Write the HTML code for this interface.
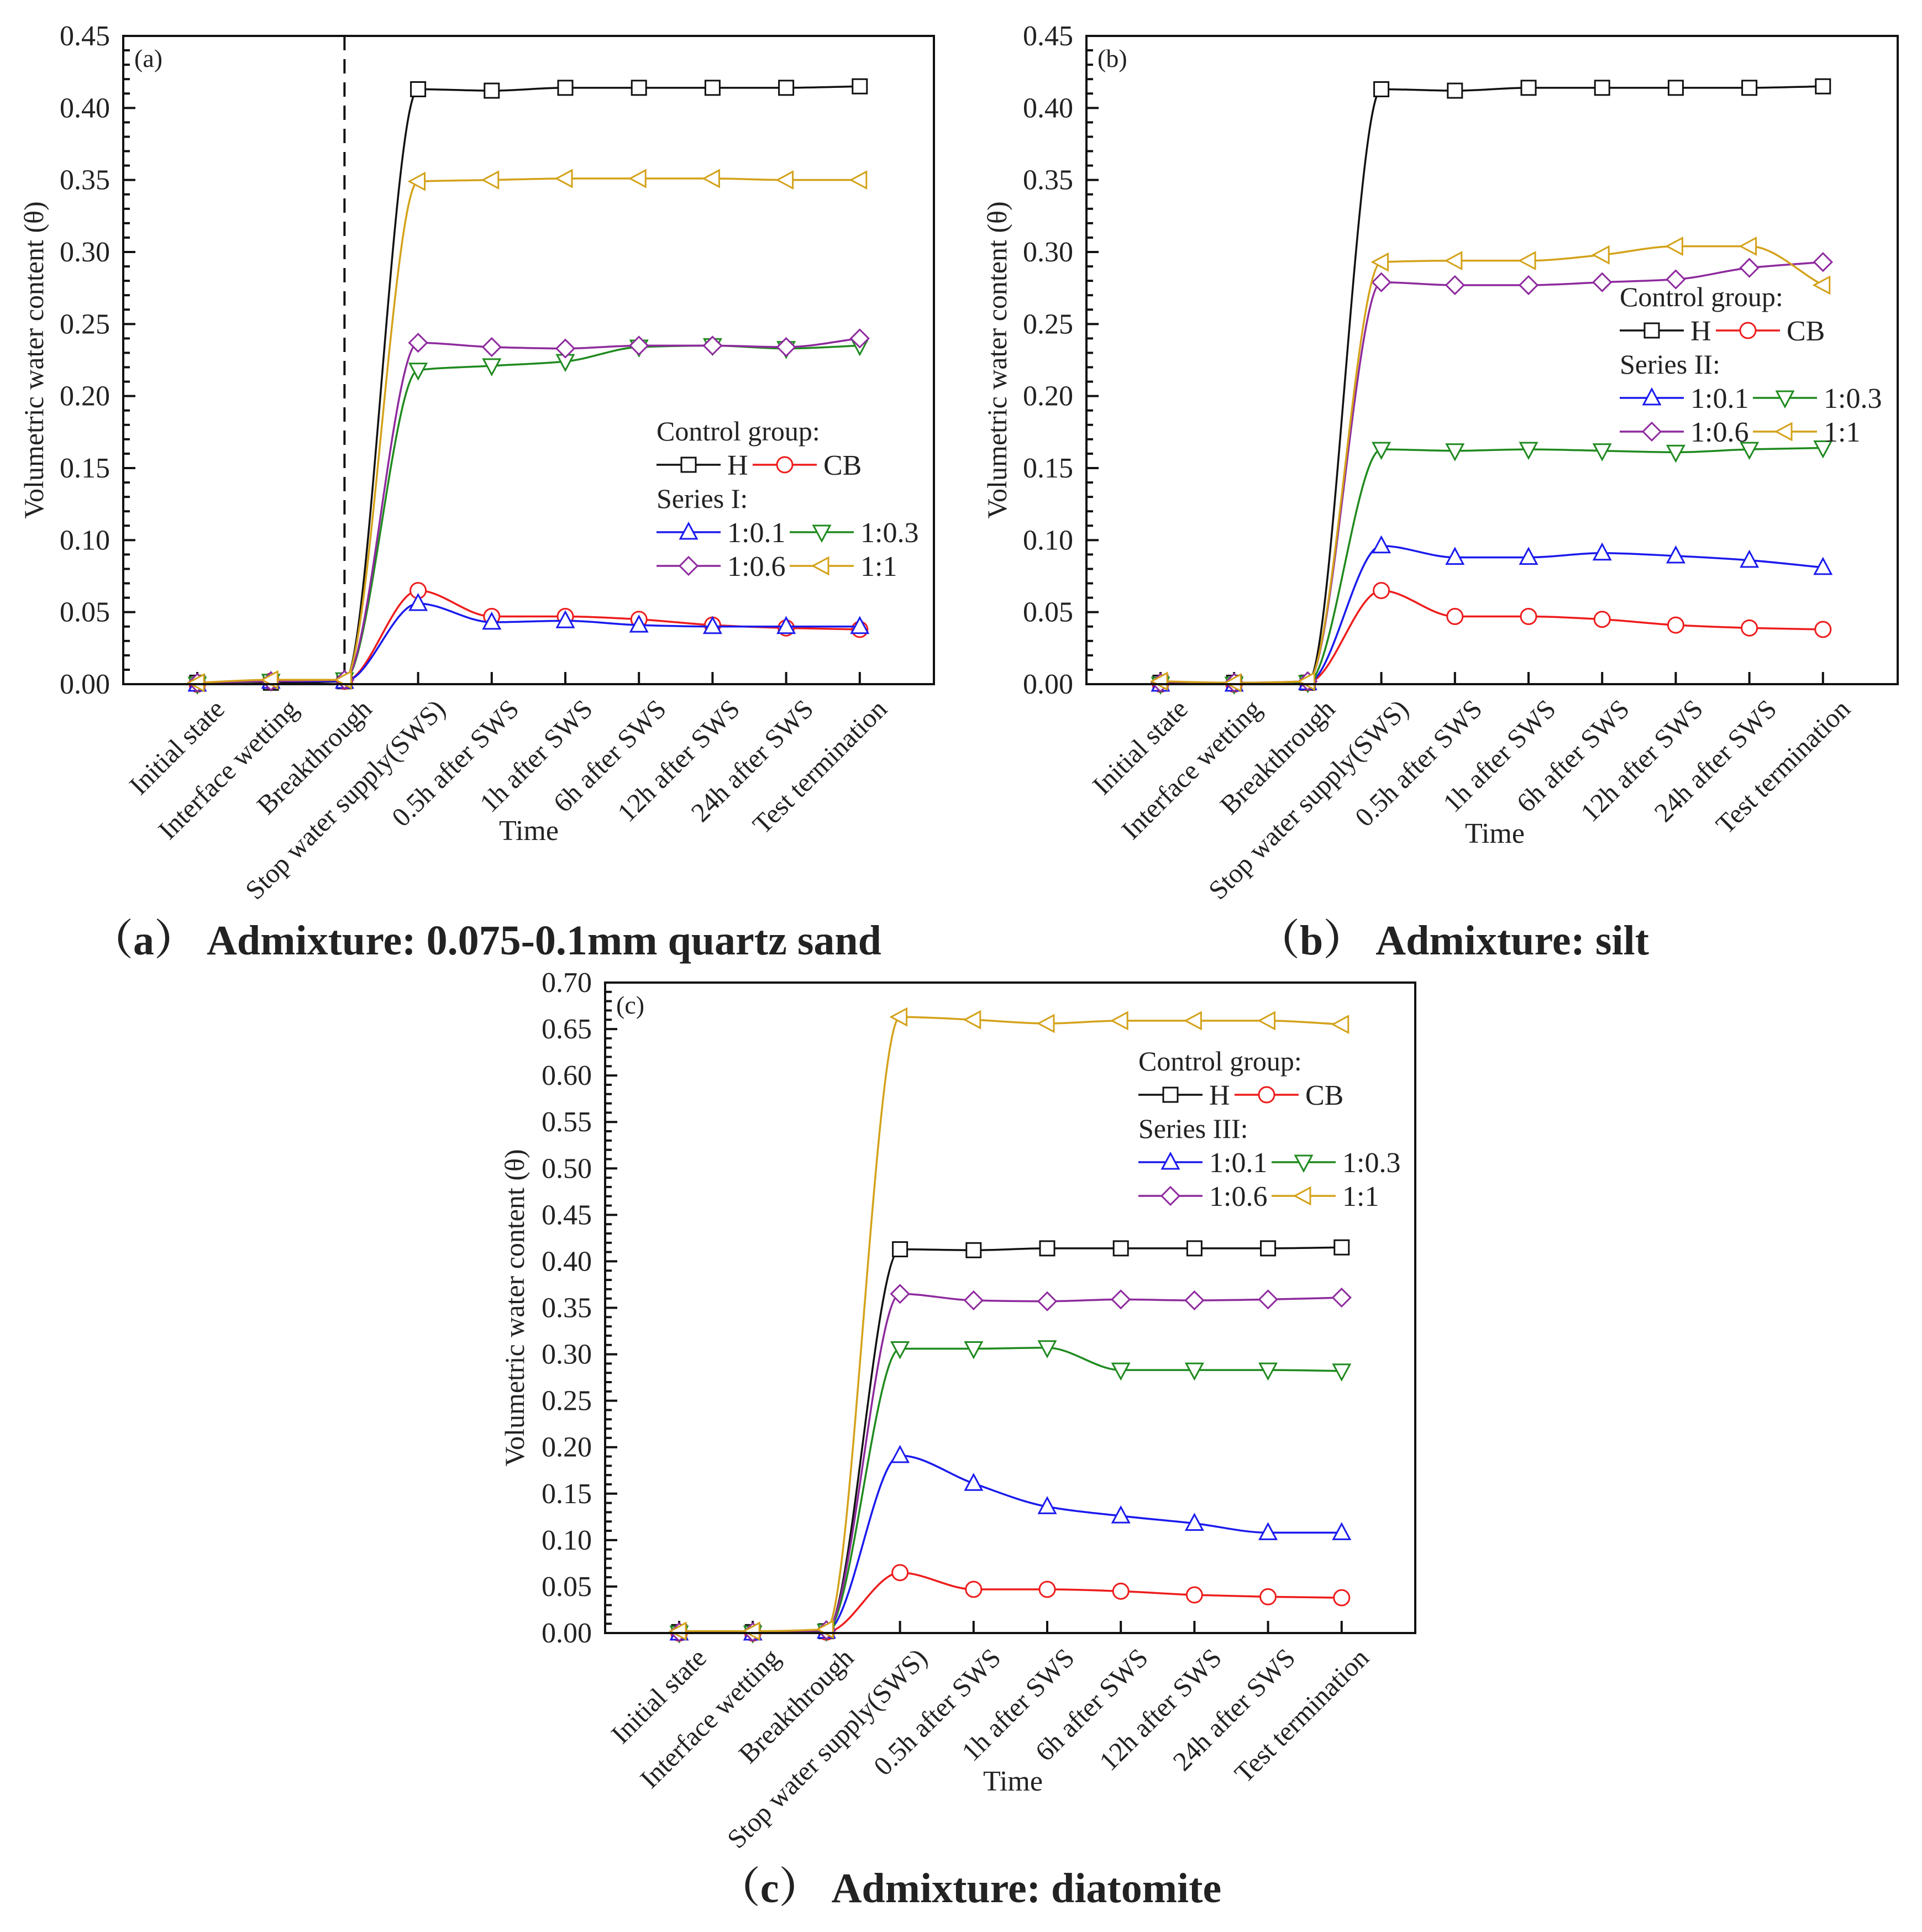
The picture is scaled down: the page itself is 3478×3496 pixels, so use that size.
<!DOCTYPE html>
<html><head><meta charset="utf-8">
<style>
html,body{margin:0;padding:0;background:#fff;}
svg{display:block;}
text{font-family:"Liberation Serif","Noto Serif CJK SC",serif;fill:#222;}
</style></head>
<body>
<svg id="fig" width="3478" height="3496" viewBox="0 0 3478 3496" xmlns="http://www.w3.org/2000/svg"></svg>
<script>
// ---- data ----
const categories = ["Initial state","Interface wetting","Breakthrough","Stop water supply(SWS)","0.5h after SWS","1h after SWS","6h after SWS","12h after SWS","24h after SWS","Test termination"];
const yTicksAB = [0,0.05,0.10,0.15,0.20,0.25,0.30,0.35,0.40,0.45];
const yTicksC = [0,0.05,0.10,0.15,0.20,0.25,0.30,0.35,0.40,0.45,0.50,0.55,0.60,0.65,0.70];

const aH   = [0.001,0.001,0.002,0.413,0.412,0.414,0.414,0.414,0.414,0.415];
const aCB  = [0.000,0.002,0.002,0.065,0.047,0.047,0.045,0.041,0.039,0.038];
const a01  = [0.000,0.002,0.002,0.056,0.043,0.044,0.041,0.040,0.040,0.040];
const a03  = [0.000,0.002,0.003,0.218,0.221,0.224,0.234,0.235,0.233,0.235];
const a06  = [0.001,0.002,0.003,0.237,0.234,0.233,0.235,0.235,0.234,0.240];
const a1   = [0.001,0.003,0.003,0.349,0.350,0.351,0.351,0.351,0.350,0.350];

const bH   = [0.001,0.001,0.001,0.413,0.412,0.414,0.414,0.414,0.414,0.415];
const bCB  = [0.000,0.000,0.001,0.065,0.047,0.047,0.045,0.041,0.039,0.038];
const b01  = [0.000,0.000,0.001,0.096,0.088,0.088,0.091,0.089,0.086,0.081];
const b03  = [0.000,0.000,0.001,0.163,0.162,0.163,0.162,0.161,0.163,0.164];
const b06  = [0.001,0.001,0.002,0.279,0.277,0.277,0.279,0.281,0.289,0.293];
const b1   = [0.002,0.001,0.002,0.293,0.294,0.294,0.298,0.304,0.304,0.277];

const cH   = [0.001,0.001,0.002,0.413,0.412,0.414,0.414,0.414,0.414,0.415];
const cCB  = [0.000,0.000,0.001,0.065,0.047,0.047,0.045,0.041,0.039,0.038];
const c01  = [0.000,0.000,0.002,0.191,0.161,0.136,0.126,0.118,0.108,0.108];
const c03  = [0.000,0.000,0.002,0.306,0.306,0.307,0.283,0.283,0.283,0.282];
const c06  = [0.001,0.001,0.003,0.365,0.358,0.357,0.359,0.358,0.359,0.361];
const c1   = [0.002,0.002,0.004,0.663,0.660,0.656,0.659,0.659,0.659,0.655];

const seriesNames = ["H","CB","1:0.1","1:0.3","1:0.6","1:1"];
const colors = ["#111111","#ee1c1c","#1a1aee","#1f8a1f","#8e2a9e","#d4a21a"];
const shapes = ["square","circle","up","down","diamond","left"];

const NS="http://www.w3.org/2000/svg";
const svg=document.getElementById('fig');
function el(tag,attrs,parent){const e=document.createElementNS(NS,tag);for(const k in attrs)e.setAttribute(k,attrs[k]);(parent||svg).appendChild(e);return e;}

function marker(g,shape,x,y,color){
  const r=13;let e;
  if(shape==="square") e=el('rect',{x:x-r,y:y-r,width:2*r,height:2*r},g);
  else if(shape==="circle") e=el('circle',{cx:x,cy:y,r:r+1},g);
  else if(shape==="up") e=el('polygon',{points:`${x},${y-r-3} ${x+r+2},${y+r-1} ${x-r-2},${y+r-1}`},g);
  else if(shape==="down") e=el('polygon',{points:`${x},${y+r+3} ${x+r+2},${y-r+1} ${x-r-2},${y-r+1}`},g);
  else if(shape==="diamond") e=el('polygon',{points:`${x},${y-r-3} ${x+r+3},${y} ${x},${y+r+3} ${x-r-3},${y}`},g);
  else e=el('polygon',{points:`${x-r-3},${y} ${x+r-1},${y-r-2} ${x+r-1},${y+r+2}`},g);
  e.setAttribute('fill','#fff');e.setAttribute('stroke',color);e.setAttribute('stroke-width','3');
  return e;
}
function spline(pts){
  const n=pts.length,dx=[],sl=[],m=[];
  for(let i=0;i<n-1;i++){dx[i]=pts[i+1][0]-pts[i][0];sl[i]=(pts[i+1][1]-pts[i][1])/dx[i];}
  m[0]=sl[0];m[n-1]=sl[n-2];
  for(let i=1;i<n-1;i++){
    if(sl[i-1]*sl[i]<=0) m[i]=0;
    else {const w1=2*dx[i]+dx[i-1],w2=dx[i]+2*dx[i-1];m[i]=(w1+w2)/(w1/sl[i-1]+w2/sl[i]);}
  }
  let d=`M${pts[0][0]},${pts[0][1]}`;
  for(let i=0;i<n-1;i++){
    const h=dx[i]/3;
    d+=` C${pts[i][0]+h},${pts[i][1]+m[i]*h} ${pts[i+1][0]-h},${pts[i+1][1]-m[i+1]*h} ${pts[i+1][0]},${pts[i+1][1]}`;
  }
  return d;
}

function panel(cfg){
  const g=el('g',{});
  
  
  const L=cfg.left,R=cfg.right,T=cfg.top,B=cfg.bottom,ymax=cfg.ticks[cfg.ticks.length-1];
  const x0=L+134,dx=133.2;
  const xs=i=>x0+i*dx;
  const ys=v=>B-(v/ymax)*(B-T);
  const step=cfg.ticks[1]-cfg.ticks[0];
  cfg.ticks.forEach((v,i)=>{
    const y=ys(v);
    const t=el('line',{x1:L,x2:L+22,y1:y,y2:y,stroke:'#111','stroke-width':4},g);
    
    const lb=el('text',{x:L-24,y:y+17,'text-anchor':'end','font-size':52},g);
    lb.textContent=v.toFixed(2);
    
    if(i<cfg.ticks.length-1){for(let k=1;k<5;k++){const ym=ys(v+step*k/5);el('line',{x1:L,x2:L+12,y1:ym,y2:ym,stroke:'#111','stroke-width':4},g);}}
  });
  categories.forEach((c,i)=>{
    const x=xs(i);
    const t=el('line',{x1:x,x2:x,y1:B,y2:B-22,stroke:'#111','stroke-width':4},g);
    
    const lb=el('text',{transform:`translate(${x+52},${B+48}) rotate(-45)`,'text-anchor':'end','font-size':49},g);
    lb.textContent=c;
    
  });
  if(cfg.dashed){
    const dl=el('line',{x1:xs(2),x2:xs(2),y1:T,y2:B,stroke:'#111','stroke-width':4,'stroke-dasharray':'26,16'},g);
    
  }
  cfg.series.forEach((arr,si)=>{
    const sg=el('g',{},g);
    
    
    const pts=arr.map((v,i)=>[xs(i),ys(v)]);
    el('path',{d:spline(pts),fill:'none',stroke:colors[si],'stroke-width':3.5},sg);
    pts.forEach(p=>{const m=marker(sg,shapes[si],p[0],p[1],colors[si]);});
  });
  const fr=el('rect',{x:L,y:T,width:R-L,height:B-T,fill:'none',stroke:'#111','stroke-width':4},g);
  
  const pl=el('text',{x:L+20,y:T+56,'font-size':46},g);pl.textContent=cfg.letter;
  
  const yt=el('text',{transform:`translate(${cfg.ytx},${(T+B)/2}) rotate(-90)`,'text-anchor':'middle','font-size':50},g);
  yt.textContent='Volumetric water content (θ)';
  
  const xt=el('text',{x:cfg.timeX,y:cfg.timeY,'text-anchor':'middle','font-size':52},g);
  xt.textContent='Time';
  
  const lg=el('g',{},g);
  
  const lx=L+965,ly=cfg.legendY,rs=61;
  const h1=el('text',{x:lx,y:ly+17,'font-size':50},lg);h1.textContent='Control group:';
  
  const h2=el('text',{x:lx,y:ly+2*rs+17,'font-size':50},lg);h2.textContent=cfg.seriesTitle;
  
  const entries=[[0,0,1],[1,1,1],[2,0,3],[3,1,3],[4,0,4],[5,1,4]];
  entries.forEach(([si,col,row])=>{
    const ex=col===0?lx:(si<2?lx+174:lx+241);
    const ey=ly+row*rs;
    const eg=el('g',{},lg);
    
    el('line',{x1:ex,x2:ex+116,y1:ey,y2:ey,stroke:colors[si],'stroke-width':3.5},eg);
    marker(eg,shapes[si],ex+58,ey,colors[si]);
    const t=el('text',{x:ex+128,y:ey+18,'font-size':52},eg);t.textContent=seriesNames[si];
  });
}

panel({name:'panel-a',letter:'(a)',left:223,right:1690,top:65,bottom:1238,ticks:yTicksAB,dashed:true,
  series:[aH,aCB,a01,a03,a06,a1],ytx:78,timeX:957,timeY:1520,legendY:780,seriesTitle:'Series I:'});
panel({name:'panel-b',letter:'(b)',left:1966,right:3434,top:65,bottom:1238,ticks:yTicksAB,dashed:false,
  series:[bH,bCB,b01,b03,b06,b1],ytx:1821,timeX:2705,timeY:1525,legendY:537,seriesTitle:'Series II:'});
panel({name:'panel-c',letter:'(c)',left:1095,right:2561,top:1778,bottom:2955,ticks:yTicksC,dashed:false,
  series:[cH,cCB,c01,c03,c06,c1],ytx:948,timeX:1833,timeY:3240,legendY:1920,seriesTitle:'Series III:'});

function caption(x,y,txt,name){
  const t=el('text',{x:x,y:y,'text-anchor':'middle','font-size':76,'font-weight':'bold'});
  t.textContent=txt;
  
}
caption(880,1727,'（a） Admixture: 0.075-0.1mm quartz sand','caption-a');
caption(2630,1727,'（b） Admixture: silt','caption-b');
caption(1755,3442,'（c） Admixture: diatomite','caption-c');
</script>
</body></html>
